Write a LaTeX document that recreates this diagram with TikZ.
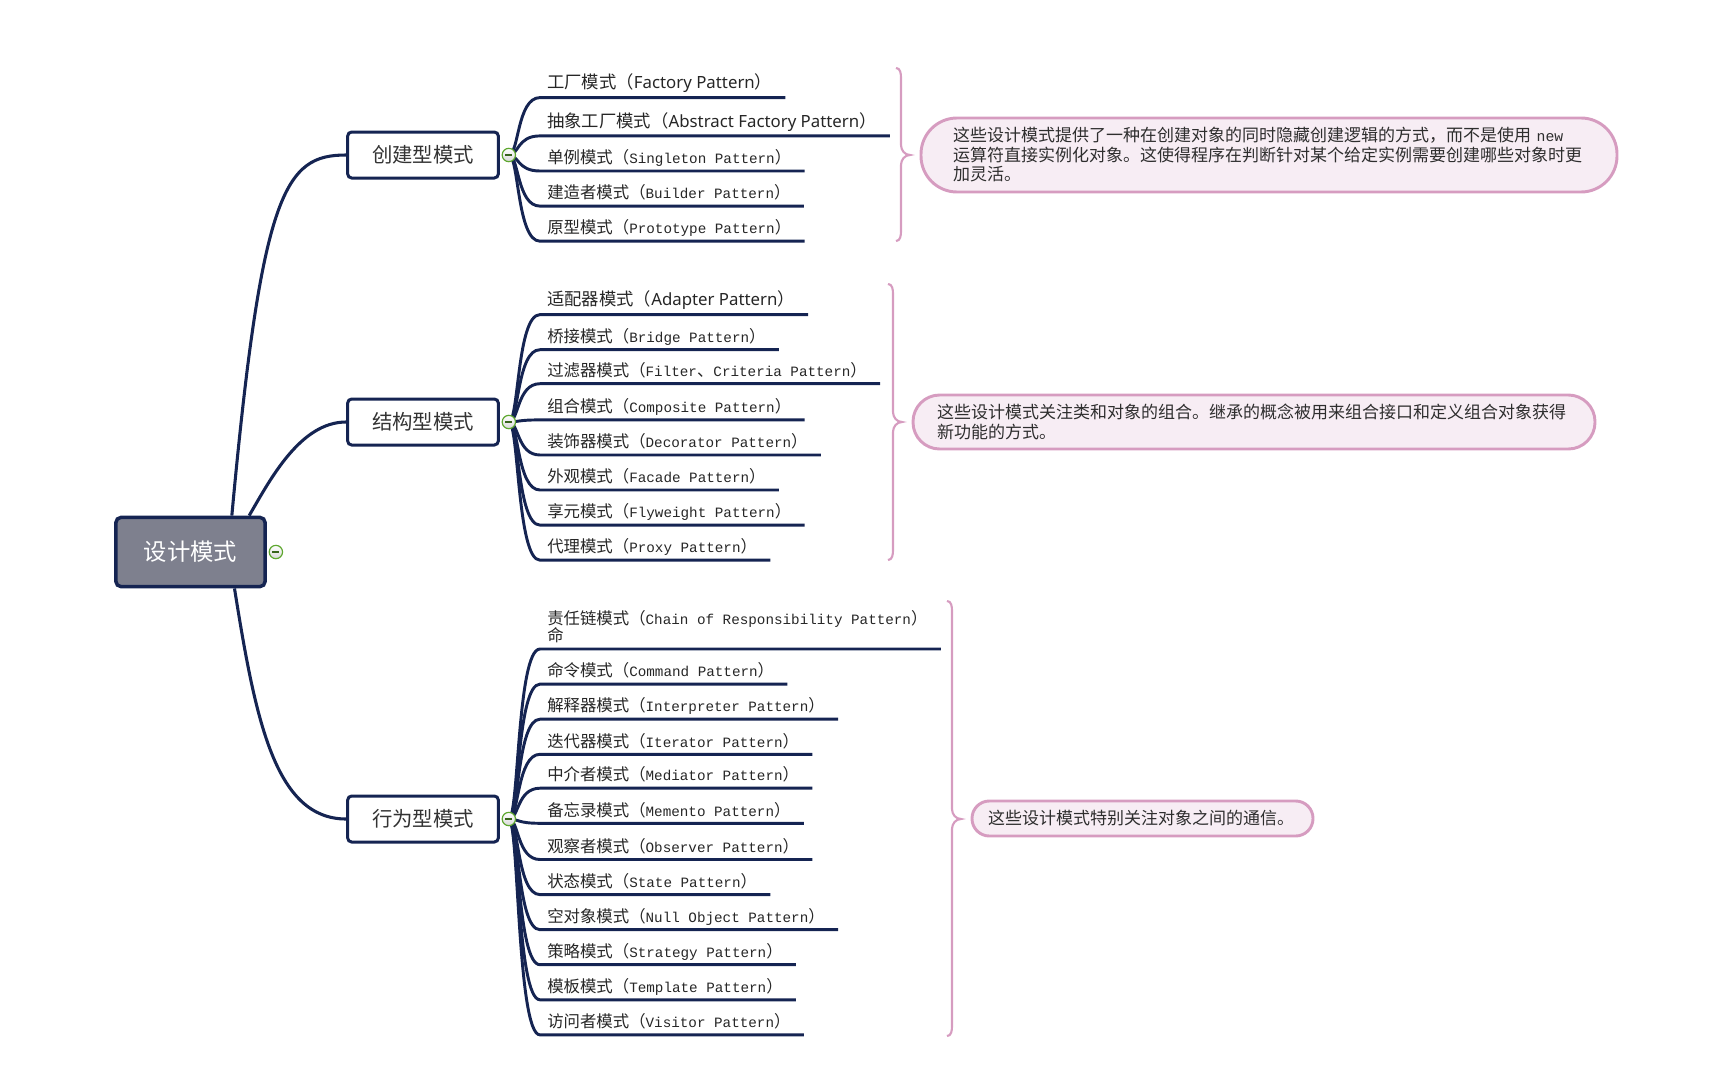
\documentclass[tikz,border=0pt]{standalone}
\usepackage{fontspec}
\setmainfont{Noto Sans CJK SC}
\newfontfamily\monolat[Scale=0.87]{Liberation Mono}
\newfontfamily\proplat[Scale=0.97]{Noto Sans}
\definecolor{navy}{HTML}{152452}
\definecolor{rootgray}{HTML}{7E808E}
\definecolor{pinkborder}{HTML}{D69CC0}
\definecolor{pinkfill}{HTML}{F7EDF4}
\definecolor{mmgreen}{HTML}{5EA72F}
\newcommand\latm[1]{{\monolat #1}}
\newcommand\latp[1]{{\proplat #1}}
\newcommand\mmleaf[2]{\draw[branchline] (#1) .. controls +(7.5pt,0) and ([xshift=-22.5pt]#2.south west) .. ([xshift=-5.25pt]#2.south west) -- ([xshift=9.75pt]#2.south east);}
\newcommand\mmbrace[4]{\draw[bracestyle] (#1-5,#2) to[out=0,in=90] (#1,#2+10) -- (#1,#3-10) to[out=-90,in=180] (#1+9,#3) to[out=180,in=90] (#1,#3+10) -- (#1,#4-10) to[out=-90,in=0] (#1-5,#4);}
\begin{document}
\begin{tikzpicture}[x=0.75pt,y=-0.75pt,
  rootnode/.style={draw=navy, line width=2.6pt, fill=rootgray, rounded corners=4pt, minimum width=112pt, minimum height=52pt, inner sep=0pt, text=white, font=\fontsize{17.5pt}{20pt}\selectfont},
  topicnode/.style={draw=navy, line width=2.25pt, fill=white, rounded corners=3pt, minimum width=113pt, minimum height=34.5pt, inner sep=0pt, text=black!80, font=\fontsize{15.3pt}{18pt}\selectfont},
  conn/.style={draw=navy, line width=2.3pt},
  branchline/.style={draw=navy, line width=2.2pt},
  leaf/.style={anchor=south west, inner sep=0pt, text depth=5.25pt, text=black!85, font=\fontsize{12.3pt}{13.2pt}\selectfont},
  propleaf/.style={leaf, text depth=6.4pt, font=\fontsize{13pt}{14pt}\selectfont},
  collapse/.style={circle, draw=mmgreen, line width=0.9pt, top color=white, bottom color=black!15, minimum size=10pt, inner sep=0pt,
    path picture={\draw[mmgreen!60!black, line width=0.9pt] ([xshift=-2.6pt]path picture bounding box.center) -- ([xshift=2.6pt]path picture bounding box.center);}},
  bracestyle/.style={draw=pinkborder, line width=1.6pt},
  callout/.style={draw=pinkborder, fill=pinkfill, line width=2.2pt, align=left, text=black!82, inner ysep=0pt, font=\fontsize{12.75pt}{14.6pt}\selectfont}
]
\useasboundingbox (0,0) rectangle (1719,1067);

% central and main topics
\node[rootnode] (root) at (190.5,552) {设计模式};
\node[topicnode] (n1) at (423,155) {创建型模式};
\node[topicnode] (n2) at (423,422) {结构型模式};
\node[topicnode] (n3) at (423,819) {行为型模式};

\draw[conn] ([xshift=31pt]root.north) .. controls +(30,-326) and +(-61,0) .. (n1.west);
\draw[conn] ([xshift=44pt]root.north) .. controls +(21,-36) and +(-46,0) .. (n2.west);
\draw[conn] ([xshift=33pt]root.south) .. controls +(21,132) and +(-71,0) .. (n3.west);

\coordinate (k0) at ([xshift=6.75pt]root.east);
\coordinate (k1) at ([xshift=6.75pt]n1.east);
\coordinate (k2) at ([xshift=6.75pt]n2.east);
\coordinate (k3) at ([xshift=6.75pt]n3.east);

% creational
\node[propleaf] (a1) at (547,97.6) {工厂模式（\latp{Factory Pattern}）};
\node[propleaf] (a2) at (547,135.9) {抽象工厂模式（\latp{Abstract Factory Pattern}）};
\node[leaf] (a3) at (547,171.0) {单例模式（\latm{Singleton Pattern}）};
\node[leaf] (a4) at (547,206.1) {建造者模式（\latm{Builder Pattern}）};
\node[leaf] (a5) at (547,241.2) {原型模式（\latm{Prototype Pattern}）};
\foreach \l in {a1,a2,a3,a4,a5} {\mmleaf{k1}{\l}}

% structural
\node[propleaf] (b1) at (547,314.6) {适配器模式（\latp{Adapter Pattern}）};
\node[leaf] (b2) at (547,349.7) {桥接模式（\latm{Bridge Pattern}）};
\node[leaf] (b3) at (547,383.7) {过滤器模式（\latm{Filter}、\latm{Criteria Pattern}）};
\node[leaf] (b4) at (547,419.9) {组合模式（\latm{Composite Pattern}）};
\node[leaf] (b5) at (547,455.0) {装饰器模式（\latm{Decorator Pattern}）};
\node[leaf] (b6) at (547,490.0) {外观模式（\latm{Facade Pattern}）};
\node[leaf] (b7) at (547,525.1) {享元模式（\latm{Flyweight Pattern}）};
\node[leaf] (b8) at (547,560.2) {代理模式（\latm{Proxy Pattern}）};
\foreach \l in {b1,b2,b3,b4,b5,b6,b7,b8} {\mmleaf{k2}{\l}}

% behavioral
\node[leaf, align=left] (c1) at (547,649.0) {责任链模式（\latm{Chain of Responsibility Pattern}）\\命};
\node[leaf] (c2) at (547,684.1) {命令模式（\latm{Command Pattern}）};
\node[leaf] (c3) at (547,719.2) {解释器模式（\latm{Interpreter Pattern}）};
\node[leaf] (c4) at (547,754.3) {迭代器模式（\latm{Iterator Pattern}）};
\node[leaf] (c5) at (547,788.2) {中介者模式（\latm{Mediator Pattern}）};
\node[leaf] (c6) at (547,823.3) {备忘录模式（\latm{Memento Pattern}）};
\node[leaf] (c7) at (547,859.5) {观察者模式（\latm{Observer Pattern}）};
\node[leaf] (c8) at (547,894.6) {状态模式（\latm{State Pattern}）};
\node[leaf] (c9) at (547,929.7) {空对象模式（\latm{Null Object Pattern}）};
\node[leaf] (c10) at (547,964.7) {策略模式（\latm{Strategy Pattern}）};
\node[leaf] (c11) at (547,999.8) {模板模式（\latm{Template Pattern}）};
\node[leaf] (c12) at (547,1034.9) {访问者模式（\latm{Visitor Pattern}）};
\foreach \l in {c1,c2,c3,c4,c5,c6,c7,c8,c9,c10,c11,c12} {\mmleaf{k3}{\l}}

% collapse markers
\node[collapse] (o0) at (k0) {};
\node[collapse] (o1) at (k1) {};
\node[collapse] (o2) at (k2) {};
\node[collapse] (o3) at (k3) {};

% braces
\mmbrace{901}{68}{155}{241}
\mmbrace{893}{284}{422}{560}
\mmbrace{952}{601}{819}{1036}

% summaries
\node[callout, text width=474pt, inner xsep=24pt, minimum height=55.5pt, rounded corners=27pt] (s1) at (1269,155)
  {这些设计模式提供了一种在创建对象的同时隐藏创建逻辑的方式，而不是使用 \latm{new}\\运算符直接实例化对象。这使得程序在判断针对某个给定实例需要创建哪些对象时更\\加灵活。};
\node[callout, text width=475.5pt, inner xsep=18pt, minimum height=40.5pt, rounded corners=20pt] (s2) at (1254,422)
  {这些设计模式关注类和对象的组合。继承的概念被用来组合接口和定义组合对象获得\\新功能的方式。};
\node[callout, text width=231.75pt, inner xsep=12pt, minimum height=26.25pt, rounded corners=13pt] (s3) at (1142.5,818.5)
  {这些设计模式特别关注对象之间的通信。};
\end{tikzpicture}
\end{document}
